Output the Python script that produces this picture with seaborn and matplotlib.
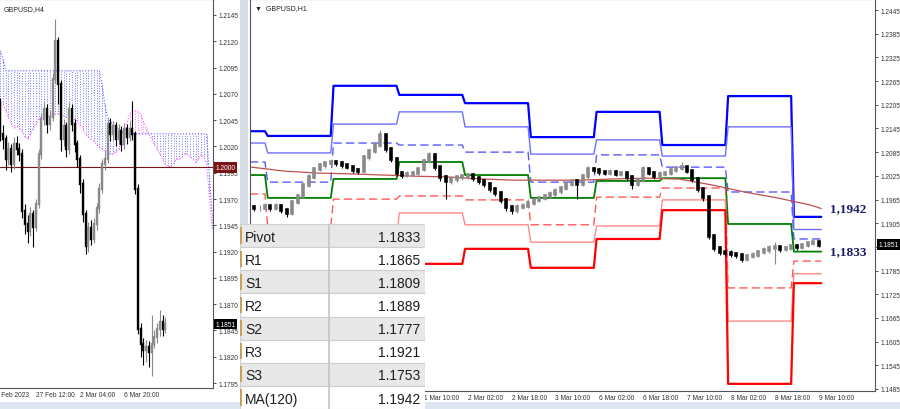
import numpy as np
import matplotlib
matplotlib.use("Agg")
import matplotlib.pyplot as plt
from matplotlib.patches import Rectangle
import seaborn as sns

# ---------------- data ----------------
# left panel: GBPUSD H4 (bar index 0 = 27 Feb 12:00)
h4_bar = list(range(-13, 48))
h4_open = [1.2060, 1.2032, 1.2027, 1.2008, 1.2018, 1.2003, 1.2022, 1.2018, 1.2013, 1.1959,
           1.1946, 1.1940, 1.1956, 1.1943, 1.1965, 1.2013, 1.2046, 1.2056, 1.2041, 1.2048,
           1.2084, 1.2120, 1.2079, 1.2027, 1.2039, 1.2018, 1.2056, 1.2041, 1.2022, 1.2008,
           1.1984, 1.1956, 1.1925, 1.1942, 1.1932, 1.1946, 1.1961, 1.1980, 1.2003, 1.2008,
           1.2041, 1.2032, 1.2039, 1.2027, 1.2035, 1.2022, 1.2037, 1.2029, 1.2037, 1.2032,
           1.1980, 1.1846, 1.1832, 1.1826, 1.1829, 1.1825, 1.1832, 1.1839, 1.1846, 1.1853,
           1.1846]
h4_close = [1.2032, 1.2027, 1.2008, 1.2018, 1.2003, 1.2022, 1.2018, 1.2013, 1.1959, 1.1946,
            1.1940, 1.1956, 1.1943, 1.1965, 1.2013, 1.2046, 1.2056, 1.2041, 1.2048, 1.2084,
            1.2120, 1.2079, 1.2027, 1.2039, 1.2018, 1.2056, 1.2041, 1.2022, 1.2008, 1.1984,
            1.1956, 1.1925, 1.1942, 1.1932, 1.1946, 1.1961, 1.1980, 1.2003, 1.2008, 1.2041,
            1.2032, 1.2039, 1.2027, 1.2035, 1.2022, 1.2037, 1.2029, 1.2037, 1.2032, 1.1980,
            1.1846, 1.1832, 1.1826, 1.1829, 1.1825, 1.1832, 1.1839, 1.1846, 1.1853, 1.1846,
            1.1851]
h4_high = [1.2066, 1.2040, 1.2031, 1.2024, 1.2022, 1.2029, 1.2030, 1.2023, 1.2018, 1.1965,
           1.1955, 1.1962, 1.1960, 1.1970, 1.2018, 1.2052, 1.2062, 1.2060, 1.2055, 1.2090,
           1.2141, 1.2124, 1.2083, 1.2046, 1.2043, 1.2062, 1.2060, 1.2046, 1.2026, 1.2012,
           1.1989, 1.1960, 1.1948, 1.1950, 1.1952, 1.1966, 1.1985, 1.2008, 1.2016, 1.2046,
           1.2047, 1.2044, 1.2043, 1.2041, 1.2039, 1.2042, 1.2041, 1.2044, 1.2063, 1.2035,
           1.1984, 1.1852, 1.1838, 1.1836, 1.1835, 1.1860, 1.1845, 1.1852, 1.1864, 1.1860,
           1.1858]
h4_low = [1.2025, 1.2018, 1.1998, 1.2002, 1.1996, 1.1999, 1.2012, 1.2006, 1.1952, 1.1937,
          1.1928, 1.1935, 1.1924, 1.1940, 1.1961, 1.2008, 1.2040, 1.2033, 1.2036, 1.2044,
          1.2080, 1.2060, 1.2016, 1.2020, 1.2010, 1.2013, 1.2035, 1.2015, 1.2000, 1.1976,
          1.1948, 1.1918, 1.1920, 1.1926, 1.1928, 1.1941, 1.1957, 1.1976, 1.1998, 1.2004,
          1.2025, 1.2026, 1.2020, 1.2022, 1.2016, 1.2018, 1.2022, 1.2025, 1.2026, 1.1975,
          1.1842, 1.1820, 1.1812, 1.1815, 1.1810, 1.1802, 1.1828, 1.1833, 1.1840, 1.1840,
          1.1843]

# Ichimoku cloud (shifted forward), bar index -13 .. 64
cloud_bar = list(range(-13, 65))
span_a = [1.2065, 1.2060, 1.2054, 1.2048, 1.2041, 1.2038, 1.2039, 1.2037, 1.2034, 1.2029,
          1.2027, 1.2032, 1.2037, 1.2041, 1.2046, 1.2048, 1.2048, 1.2048, 1.2049, 1.2050,
          1.2051, 1.2051, 1.2050, 1.2049, 1.2048, 1.2048, 1.2047, 1.2046, 1.2044, 1.2040,
          1.2037, 1.2032, 1.2029, 1.2027, 1.2025, 1.2022, 1.2019, 1.2018, 1.2016, 1.2015,
          1.2013, 1.2013, 1.2015, 1.2018, 1.2019, 1.2027, 1.2041, 1.2051, 1.2054, 1.2054,
          1.2053, 1.2051, 1.2044, 1.2038, 1.2032, 1.2027, 1.2022, 1.2018, 1.2013, 1.2008,
          1.2003, 1.2001, 1.2001, 1.2003, 1.2008, 1.2008, 1.2010, 1.2013, 1.2013, 1.2010,
          1.2008, 1.2005, 1.2008, 1.2012, 1.2010, 1.2003, 1.1975, 1.1942]
span_b = [1.2111, 1.2103, 1.2092, 1.2092, 1.2092, 1.2092, 1.2092, 1.2092, 1.2092, 1.2092,
          1.2092, 1.2092, 1.2092, 1.2092, 1.2092, 1.2092, 1.2092, 1.2092, 1.2092, 1.2092,
          1.2092, 1.2092, 1.2092, 1.2092, 1.2092, 1.2092, 1.2092, 1.2092, 1.2092, 1.2092,
          1.2092, 1.2092, 1.2092, 1.2092, 1.2092, 1.2092, 1.2092, 1.2079, 1.2060, 1.2048,
          1.2044, 1.2041, 1.2038, 1.2037, 1.2035, 1.2032, 1.2032, 1.2032, 1.2032, 1.2032,
          1.2032, 1.2032, 1.2032, 1.2032, 1.2032, 1.2032, 1.2032, 1.2032, 1.2032, 1.2032,
          1.2032, 1.2032, 1.2032, 1.2032, 1.2032, 1.2032, 1.2032, 1.2032, 1.2032, 1.2032,
          1.2032, 1.2032, 1.2032, 1.2032, 1.2032, 1.2032, 1.1994, 1.1956]

h4_ticks = [-16, 0, 16, 32]
h4_tick_labels = ["24 Feb 2023", "27 Feb 12:00", "2 Mar 04:00", "6 Mar 20:00"]
h4_yticks = [1.1795, 1.1820, 1.1845, 1.1870, 1.1895, 1.1920, 1.1945, 1.1970,
             1.1995, 1.2020, 1.2045, 1.2070, 1.2095, 1.2120, 1.2145]

# right panel: GBPUSD H1, 2-hour steps (hour 0 = 27 Feb 00:00, weekend skipped)
h1_hour = list(range(-4, 203, 2))
h1_open = [1.1945, 1.1943, 1.1943, 1.1949, 1.1943, 1.1949, 1.1938, 1.1931, 1.1959, 1.1974,
           1.2002, 1.2022, 1.2042, 1.2052, 1.2057, 1.2060, 1.2057, 1.2052, 1.2047, 1.2040,
           1.2037, 1.2073, 1.2088, 1.2103, 1.2128, 1.2093, 1.2068, 1.2032, 1.2027, 1.2030,
           1.2032, 1.2042, 1.2063, 1.2078, 1.2047, 1.2022, 1.2012, 1.2017, 1.2022, 1.2024,
           1.2027, 1.2019, 1.2012, 1.2004, 1.1992, 1.1981, 1.1964, 1.1946, 1.1938, 1.1946,
           1.1949, 1.1956, 1.1964, 1.1969, 1.1974, 1.1979, 1.1987, 1.1994, 1.2004, 1.2012,
           1.2004, 1.2024, 1.2042, 1.2040, 1.2035, 1.2032, 1.2035, 1.2030, 1.2032, 1.2022,
           1.2004, 1.2014, 1.2042, 1.2032, 1.2024, 1.2030, 1.2032, 1.2040, 1.2045, 1.2047,
           1.2037, 1.2017, 1.1992, 1.1971, 1.1873, 1.1842, 1.1832, 1.1830, 1.1827, 1.1825,
           1.1814, 1.1822, 1.1825, 1.1832, 1.1837, 1.1842, 1.1845, 1.1840, 1.1842, 1.1847,
           1.1845, 1.1850, 1.1855, 1.1857]
h1_close = [1.1943, 1.1943, 1.1949, 1.1943, 1.1949, 1.1938, 1.1931, 1.1959, 1.1974, 1.2002,
            1.2022, 1.2042, 1.2052, 1.2057, 1.2060, 1.2057, 1.2052, 1.2047, 1.2040, 1.2037,
            1.2073, 1.2088, 1.2103, 1.2128, 1.2093, 1.2068, 1.2032, 1.2027, 1.2030, 1.2032,
            1.2042, 1.2063, 1.2078, 1.2047, 1.2022, 1.2012, 1.2017, 1.2022, 1.2024, 1.2027,
            1.2019, 1.2012, 1.2004, 1.1992, 1.1981, 1.1964, 1.1946, 1.1938, 1.1946, 1.1949,
            1.1956, 1.1964, 1.1969, 1.1974, 1.1979, 1.1987, 1.1994, 1.2004, 1.2012, 1.2004,
            1.2024, 1.2042, 1.2040, 1.2035, 1.2032, 1.2035, 1.2030, 1.2032, 1.2022, 1.2004,
            1.2014, 1.2042, 1.2032, 1.2024, 1.2030, 1.2032, 1.2040, 1.2045, 1.2047, 1.2037,
            1.2017, 1.1992, 1.1971, 1.1873, 1.1842, 1.1832, 1.1830, 1.1827, 1.1825, 1.1814,
            1.1822, 1.1825, 1.1832, 1.1837, 1.1842, 1.1845, 1.1840, 1.1842, 1.1847, 1.1845,
            1.1850, 1.1855, 1.1857, 1.1851]
h1_high = [1.1951, 1.1950, 1.1955, 1.1954, 1.1956, 1.1953, 1.1942, 1.1964, 1.1980, 1.2008,
           1.2030, 1.2048, 1.2058, 1.2062, 1.2066, 1.2064, 1.2062, 1.2056, 1.2050, 1.2045,
           1.2078, 1.2094, 1.2110, 1.2140, 1.2132, 1.2097, 1.2072, 1.2038, 1.2036, 1.2038,
           1.2048, 1.2068, 1.2085, 1.2082, 1.2050, 1.2028, 1.2024, 1.2028, 1.2030, 1.2033,
           1.2032, 1.2024, 1.2017, 1.2009, 1.1997, 1.1986, 1.1969, 1.1952, 1.1953, 1.1955,
           1.1962, 1.1970, 1.1975, 1.1980, 1.1986, 1.1993, 1.2000, 1.2010, 1.2018, 1.2016,
           1.2030, 1.2050, 1.2048, 1.2045, 1.2040, 1.2042, 1.2040, 1.2038, 1.2036, 1.2026,
           1.2020, 1.2050, 1.2046, 1.2036, 1.2036, 1.2038, 1.2046, 1.2050, 1.2060, 1.2051,
           1.2040, 1.2021, 1.1996, 1.1975, 1.1878, 1.1847, 1.1838, 1.1836, 1.1833, 1.1830,
           1.1828, 1.1832, 1.1838, 1.1844, 1.1850, 1.1857, 1.1851, 1.1848, 1.1853, 1.1852,
           1.1856, 1.1861, 1.1863, 1.1860]
h1_low = [1.1937, 1.1936, 1.1939, 1.1937, 1.1938, 1.1930, 1.1920, 1.1927, 1.1953, 1.1970,
          1.1997, 1.2018, 1.2036, 1.2046, 1.2050, 1.2050, 1.2046, 1.2041, 1.2033, 1.2030,
          1.2033, 1.2066, 1.2082, 1.2098, 1.2085, 1.2060, 1.2025, 1.2020, 1.2021, 1.2024,
          1.2028, 1.2038, 1.2058, 1.2040, 1.2012, 1.1966, 1.2005, 1.2010, 1.2015, 1.2018,
          1.2012, 1.2005, 1.1997, 1.1985, 1.1974, 1.1956, 1.1935, 1.1928, 1.1932, 1.1940,
          1.1943, 1.1950, 1.1958, 1.1963, 1.1968, 1.1972, 1.1980, 1.1988, 1.1998, 1.1966,
          1.1999, 1.2018, 1.2033, 1.2028, 1.2026, 1.2026, 1.2024, 1.2024, 1.2015, 1.1992,
          1.1998, 1.2010, 1.2026, 1.2018, 1.2019, 1.2025, 1.2027, 1.2034, 1.2040, 1.2031,
          1.2010, 1.1985, 1.1962, 1.1866, 1.1834, 1.1824, 1.1822, 1.1820, 1.1817, 1.1806,
          1.1808, 1.1816, 1.1820, 1.1826, 1.1830, 1.1802, 1.1833, 1.1834, 1.1836, 1.1838,
          1.1840, 1.1845, 1.1849, 1.1845]

# daily key levels (24 Feb .. 9 Mar), day edges in hours
day_start = [-5.5, 0, 24, 48, 72, 96, 120, 144, 168, 192]
day_end = [0, 24, 48, 72, 96, 120, 144, 168, 192, 203]
lvl_r3 = [1.2138, 1.2126, 1.2253, 1.2230, 1.2209, 1.2123, 1.2187, 1.2103, 1.2227, 1.1921]
lvl_r2 = [1.2108, 1.2083, 1.2156, 1.2187, 1.2149, 1.2080, 1.2116, 1.2075, 1.2149, 1.1889]
lvl_r1 = [1.2060, 1.2009, 1.2108, 1.2103, 1.2085, 1.2009, 1.2078, 1.2047, 1.1984, 1.1865]
lvl_pivot = [1.2027, 1.1969, 1.2017, 1.2060, 1.2027, 1.1969, 1.2012, 1.2019, 1.1903, 1.1833]
lvl_s1 = [1.1979, 1.1895, 1.1966, 1.1974, 1.1964, 1.1901, 1.1971, 1.1994, 1.1741, 1.1809]
lvl_s2 = [1.1895, 1.1852, 1.1865, 1.1931, 1.1901, 1.1857, 1.1898, 1.1964, 1.1657, 1.1777]
lvl_s3 = [1.1860, 1.1800, 1.1830, 1.1802, 1.1840, 1.1792, 1.1865, 1.1938, 1.1498, 1.1753]

ma_hour = [-5, 7, 19, 31, 43, 55, 67, 79, 91, 103, 115, 127, 139, 151, 163, 175, 187, 199, 203]
ma_value = [1.2047, 1.2037, 1.2032, 1.2030, 1.2027, 1.2024, 1.2022, 1.2017, 1.2014, 1.2014,
            1.2014, 1.2017, 1.2019, 1.2017, 1.2002, 1.1984, 1.1969, 1.1951, 1.1942]

h1_ticks = [58, 74, 90, 106, 122, 138, 154, 170, 186, 202]
h1_tick_labels = ["1 Mar 10:00", "2 Mar 02:00", "2 Mar 18:00", "3 Mar 10:00",
                  "6 Mar 02:00", "6 Mar 18:00", "7 Mar 10:00", "8 Mar 02:00",
                  "8 Mar 18:00", "9 Mar 10:00"]
h1_yticks = [1.1485, 1.1545, 1.1605, 1.1665, 1.1725, 1.1785, 1.1845, 1.1905, 1.1965,
             1.2025, 1.2085, 1.2145, 1.2205, 1.2265, 1.2325, 1.2385, 1.2445]

table_names = ["Pivot", "R1", "S1", "R2", "S2", "R3", "S3", "MA(120)"]
table_values = ["1.1833", "1.1865", "1.1809", "1.1889", "1.1777", "1.1921", "1.1753", "1.1942"]

last_price = 1.1851
round_level = 1.2000

# ---------------- figure ----------------
sns.set_theme(style="white")
plt.rcParams['font.family'] = ['Liberation Sans', 'DejaVu Sans']

W, H = 900, 410
fig = plt.figure(figsize=(W / 100, H / 100), dpi=100)
fig.patch.set_facecolor("white")


def px_axes(x0, y0, x1, y1, **kw):
    return fig.add_axes([x0 / W, 1 - y1 / H, (x1 - x0) / W, (y1 - y0) / H], **kw)


def candles(ax, xs, o, c, hi, lo, body_w, bull, bear):
    o = np.asarray(o)
    c = np.asarray(c)
    cols = np.where(c >= o, bull, bear)
    ax.vlines(xs, lo, hi, colors=cols, lw=0.8, zorder=4)
    ax.vlines(xs, o, c, colors=cols, lw=body_w, zorder=5, capstyle="projecting")


def style_axes(ax, yticks, hide=None):
    ax.set_facecolor("white")
    ax.yaxis.tick_right()
    ax.set_yticks(yticks)
    ax.set_yticklabels(["" if v == hide else f"{v:.4f}" for v in yticks])
    ax.set_xticks([])
    ax.tick_params(axis="y", direction="out", length=2.5, width=0.6, pad=1.5,
                   labelsize=4.7, colors="#333333", right=True, left=False)
    for s in ax.spines.values():
        s.set_color("#555555")
        s.set_linewidth(0.8)


# ---- left H4 panel
axl = px_axes(0, 0, 213, 389)
style_axes(axl, h4_yticks)
axl.spines["left"].set_visible(False)
axl.set_xlim(-13.09, 64.36)
axl.set_ylim(1.17903, 1.21602)

a = np.asarray(span_a)
b = np.asarray(span_b)
cloud_col = np.where(b >= a, "#5a5aff", "#ff50ff")
axl.vlines(cloud_bar, a, b, colors=cloud_col, lw=0.7, linestyles=(0, (1, 1.6)),
           alpha=0.85, zorder=2)
sns.lineplot(x=cloud_bar, y=span_b, ax=axl, color="#5a5aff", lw=0.8, linestyle=":",
             sort=False, estimator=None, zorder=2)
sns.lineplot(x=cloud_bar, y=span_a, ax=axl, color="#ff50ff", lw=0.8, linestyle=":",
             sort=False, estimator=None, zorder=2)
axl.axhline(round_level, color="#7a1414", lw=0.8, zorder=3)
candles(axl, h4_bar, h4_open, h4_close, h4_high, h4_low, 1.7, "#8a8a8a", "black")
axl.set_xlabel("")
axl.set_ylabel("")

axl.text(0.015, 0.985, "GBPUSD,H4", transform=axl.transAxes, fontsize=5,
         color="#222222", ha="left", va="top")
for t, lab in zip(h4_ticks, h4_tick_labels):
    axl.text(t, -0.008, lab, transform=axl.get_xaxis_transform(), fontsize=4.8,
             color="#333333", ha="left", va="top", clip_on=False)
axl.text(1.012, round_level, f"{round_level:.4f}", transform=axl.get_yaxis_transform(),
         fontsize=4.8, color="white", ha="left", va="center", clip_on=False, zorder=6,
         bbox=dict(boxstyle="square,pad=0.25", facecolor="#7a1414", edgecolor="none"))
axl.text(1.012, last_price, f"{last_price:.4f}", transform=axl.get_yaxis_transform(),
         fontsize=4.8, color="white", ha="left", va="center", clip_on=False, zorder=6,
         bbox=dict(boxstyle="square,pad=0.25", facecolor="black", edgecolor="none"))

# ---- right H1 panel
axr = px_axes(250, 0, 875, 392)
style_axes(axr, h1_yticks, hide=1.1845)
axr.set_xlim(-5.47, 222.6)
axr.set_ylim(1.14799, 1.24729)

level_styles = [
    (lvl_r3, "#0000ff", 1.6, "-"),
    (lvl_r2, "#6e6eff", 1.0, "-"),
    (lvl_r1, "#5a5aff", 1.0, (0, (6, 3))),
    (lvl_pivot, "#008000", 1.3, "-"),
    (lvl_s1, "#ff5a5a", 1.0, (0, (6, 3))),
    (lvl_s2, "#ff8a8a", 1.0, "-"),
    (lvl_s3, "#ff0000", 1.6, "-"),
]
for vals, col, lw, ls in level_styles:
    xs, ys = [], []
    for s, e, v in zip(day_start, day_end, vals):
        xs += [s + (1 if s > day_start[0] else 0), e]
        ys += [v, v]
    sns.lineplot(x=xs, y=ys, ax=axr, color=col, lw=lw, linestyle=ls,
                 sort=False, estimator=None, zorder=2)
sns.lineplot(x=ma_hour, y=ma_value, ax=axr, color="#c0504d", lw=0.9,
             sort=False, estimator=None, zorder=3)
candles(axr, h1_hour, h1_open, h1_close, h1_high, h1_low, 2.6, "#8a8a8a", "black")
axr.set_xlabel("")
axr.set_ylabel("")

axr.text(0.008, 0.988, "\u25bc  GBPUSD,H1", transform=axr.transAxes, fontsize=5,
         color="#222222", ha="left", va="top")
for t, lab in zip(h1_ticks, h1_tick_labels):
    axr.text(t, -0.008, lab, transform=axr.get_xaxis_transform(), fontsize=4.8,
             color="#333333", ha="left", va="top", clip_on=False)
axr.text(1.006, last_price, f"{last_price:.4f}", transform=axr.get_yaxis_transform(),
         fontsize=4.8, color="white", ha="left", va="center", clip_on=False, zorder=6,
         bbox=dict(boxstyle="square,pad=0.25", facecolor="black", edgecolor="none"))
for v in (table_values[-1], table_values[0]):
    axr.text(206, float(v), v.replace(".", ","), fontsize=9.5, fontweight="bold",
             family=["Liberation Serif", "DejaVu Serif"], color="#1c1c66",
             ha="left", va="center", zorder=6)

# ---- window chrome
fig.add_artist(Rectangle((240 / W, 0), 8 / W, 1, transform=fig.transFigure,
                         facecolor="#d5dce6", edgecolor="none", zorder=1))
fig.add_artist(Rectangle((0, 0), 1, 7 / H, transform=fig.transFigure,
                         facecolor="#dde7f3", edgecolor="none", zorder=1))

# ---- key level table
axt = px_axes(240, 225, 425, 410)
axt.set_zorder(10)
axt.set_xlim(0, 185)
axt.set_ylim(len(table_names), 0)
axt.axis("off")
for i, (name, val) in enumerate(zip(table_names, table_values)):
    shade = "#e8e8e8" if i % 2 == 0 else "white"
    axt.add_patch(Rectangle((0, i), 185, 1, facecolor=shade, edgecolor="#cfcfcf", lw=0.8))
    axt.add_patch(Rectangle((0, i + 0.15), 2, 0.7, facecolor="#c9a25a", edgecolor="none"))
    axt.text(5, i + 0.55, name, fontsize=10, color="#1e1e1e", ha="left", va="center")
    axt.text(180, i + 0.55, val, fontsize=10, color="#1e1e1e", ha="right", va="center")
axt.vlines(89, 0, len(table_names), colors="#c4c4c4", lw=1.2)

fig.savefig("out.png", dpi=100, facecolor="white")
